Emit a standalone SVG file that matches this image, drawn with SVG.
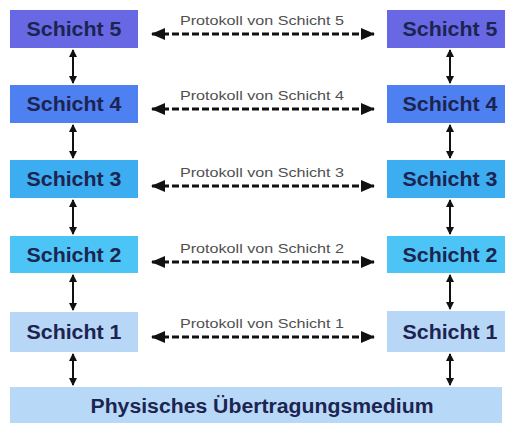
<svg xmlns="http://www.w3.org/2000/svg" width="509" height="423" viewBox="0 0 509 423">
<style>
.box{stroke:none}
.lt{font-family:"Liberation Sans",Arial,sans-serif;font-weight:bold;font-size:20px;fill:#1c2450;text-anchor:middle}
.pl{font-family:"Liberation Sans",Arial,sans-serif;font-size:12.5px;fill:#505050;text-anchor:middle}
.dash{stroke:#111;stroke-width:3;stroke-dasharray:7,3;fill:none}
.vert{stroke:#111;stroke-width:2;fill:none}
</style>
<defs>
<marker id="ah" viewBox="0 0 14 12" refX="13" refY="6" markerWidth="14" markerHeight="12" markerUnits="userSpaceOnUse" orient="auto-start-reverse"><path d="M0,0 L14,6 L0,12 Z" fill="#111"/></marker>
<marker id="vh" viewBox="0 0 8 8" refX="7" refY="4" markerWidth="8" markerHeight="8" markerUnits="userSpaceOnUse" orient="auto-start-reverse"><path d="M0,0 L8,4 L0,8 Z" fill="#111"/></marker>
</defs>
<rect width="509" height="423" fill="#fff"/>
<g id="connectors">
<line class="dash" x1="152" y1="34" x2="374" y2="34" marker-start="url(#ah)" marker-end="url(#ah)"/>
<line class="dash" x1="152" y1="109" x2="374" y2="109" marker-start="url(#ah)" marker-end="url(#ah)"/>
<line class="dash" x1="152" y1="186" x2="374" y2="186" marker-start="url(#ah)" marker-end="url(#ah)"/>
<line class="dash" x1="152" y1="262" x2="374" y2="262" marker-start="url(#ah)" marker-end="url(#ah)"/>
<line class="dash" x1="152" y1="337" x2="374" y2="337" marker-start="url(#ah)" marker-end="url(#ah)"/>
<line class="vert" x1="73" y1="50" x2="73" y2="83" marker-start="url(#vh)" marker-end="url(#vh)"/>
<line class="vert" x1="73" y1="125" x2="73" y2="158" marker-start="url(#vh)" marker-end="url(#vh)"/>
<line class="vert" x1="73" y1="200" x2="73" y2="234" marker-start="url(#vh)" marker-end="url(#vh)"/>
<line class="vert" x1="73" y1="275" x2="73" y2="310" marker-start="url(#vh)" marker-end="url(#vh)"/>
<line class="vert" x1="73" y1="354" x2="73" y2="385" marker-start="url(#vh)" marker-end="url(#vh)"/>
<line class="vert" x1="450" y1="50" x2="450" y2="83" marker-start="url(#vh)" marker-end="url(#vh)"/>
<line class="vert" x1="450" y1="125" x2="450" y2="158" marker-start="url(#vh)" marker-end="url(#vh)"/>
<line class="vert" x1="450" y1="200" x2="450" y2="234" marker-start="url(#vh)" marker-end="url(#vh)"/>
<line class="vert" x1="450" y1="275" x2="450" y2="309" marker-start="url(#vh)" marker-end="url(#vh)"/>
<line class="vert" x1="450" y1="354" x2="450" y2="385" marker-start="url(#vh)" marker-end="url(#vh)"/>
<text class="pl" x="262" y="25" textLength="164" lengthAdjust="spacingAndGlyphs">Protokoll von Schicht 5</text>
<text class="pl" x="262" y="100" textLength="164" lengthAdjust="spacingAndGlyphs">Protokoll von Schicht 4</text>
<text class="pl" x="262" y="177" textLength="164" lengthAdjust="spacingAndGlyphs">Protokoll von Schicht 3</text>
<text class="pl" x="262" y="253" textLength="164" lengthAdjust="spacingAndGlyphs">Protokoll von Schicht 2</text>
<text class="pl" x="262" y="328" textLength="164" lengthAdjust="spacingAndGlyphs">Protokoll von Schicht 1</text>
</g>
<g id="l5"><rect class="box" x="10" y="10" width="128" height="38" fill="#6868e4"/><text class="lt" x="74" y="36" textLength="95" lengthAdjust="spacingAndGlyphs">Schicht 5</text></g>
<g id="l4"><rect class="box" x="10" y="85" width="128" height="38" fill="#4f80f2"/><text class="lt" x="74" y="111" textLength="95" lengthAdjust="spacingAndGlyphs">Schicht 4</text></g>
<g id="l3"><rect class="box" x="10" y="160" width="128" height="38" fill="#3cadf0"/><text class="lt" x="74" y="186" textLength="95" lengthAdjust="spacingAndGlyphs">Schicht 3</text></g>
<g id="l2"><rect class="box" x="10" y="236" width="128" height="37" fill="#4cc5f6"/><text class="lt" x="74" y="262" textLength="95" lengthAdjust="spacingAndGlyphs">Schicht 2</text></g>
<g id="l1"><rect class="box" x="10" y="312" width="128" height="40" fill="#b8d6f6"/><text class="lt" x="74" y="339" textLength="95" lengthAdjust="spacingAndGlyphs">Schicht 1</text></g>
<g id="r5"><rect class="box" x="387" y="10" width="118" height="38" fill="#6868e4"/><text class="lt" x="450" y="36" textLength="95" lengthAdjust="spacingAndGlyphs">Schicht 5</text></g>
<g id="r4"><rect class="box" x="387" y="85" width="118" height="38" fill="#4f80f2"/><text class="lt" x="450" y="111" textLength="95" lengthAdjust="spacingAndGlyphs">Schicht 4</text></g>
<g id="r3"><rect class="box" x="387" y="160" width="118" height="38" fill="#3cadf0"/><text class="lt" x="450" y="186" textLength="95" lengthAdjust="spacingAndGlyphs">Schicht 3</text></g>
<g id="r2"><rect class="box" x="387" y="236" width="118" height="37" fill="#4cc5f6"/><text class="lt" x="450" y="262" textLength="95" lengthAdjust="spacingAndGlyphs">Schicht 2</text></g>
<g id="r1"><rect class="box" x="387" y="311" width="118" height="41" fill="#b8d6f6"/><text class="lt" x="450" y="339" textLength="95" lengthAdjust="spacingAndGlyphs">Schicht 1</text></g>
<g id="phys"><rect class="box" x="10" y="387" width="492" height="36" fill="#b8d8f8"/><text class="lt" x="262" y="413" textLength="343" lengthAdjust="spacingAndGlyphs">Physisches Übertragungsmedium</text></g>
</svg>
